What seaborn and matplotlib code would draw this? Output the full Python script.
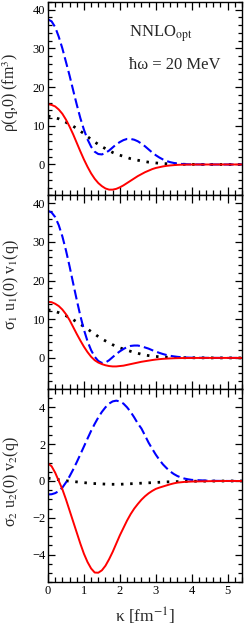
import numpy as np
import pandas as pd
import matplotlib
matplotlib.use("Agg")
import matplotlib.pyplot as plt
import seaborn as sns
from matplotlib.ticker import MultipleLocator

sns.set_theme(style="ticks")
plt.rcParams['font.family'] = ['Liberation Serif', 'DejaVu Serif']
plt.rcParams['mathtext.fontset'] = 'stix'

kappa = [0.0, 0.1, 0.2, 0.3, 0.4, 0.5, 0.6, 0.7, 0.8, 0.9,
         1.0, 1.1, 1.2, 1.3, 1.4, 1.5, 1.6, 1.7, 1.8, 1.9,
         2.0, 2.1, 2.2, 2.3, 2.4, 2.5, 2.6, 2.7, 2.8, 2.9,
         3.0, 3.1, 3.2, 3.3, 3.4, 3.5, 3.6, 3.7, 3.8, 3.9,
         4.0, 4.5, 5.0, 5.4]

# Panel 1: rho(q,0)
rho_red = [15.6, 15.4, 15.0, 14.2, 13.1, 11.6, 9.8, 7.8, 5.6, 3.4,
           1.3, -0.6, -2.3, -3.7, -4.8, -5.6, -6.2, -6.5, -6.5, -6.3,
           -5.9, -5.4, -4.8, -4.2, -3.6, -3.0, -2.5, -2.0, -1.6, -1.2,
           -0.9, -0.7, -0.5, -0.35, -0.25, -0.17, -0.1, -0.06, -0.04, -0.02,
           -0.01, 0.0, 0.0, 0.0]
rho_blue = [37.5, 37.0, 35.5, 33.0, 30.0, 26.5, 23.0, 19.2, 15.5, 12.0,
            9.0, 6.5, 4.6, 3.3, 2.7, 2.6, 3.0, 3.6, 4.4, 5.2,
            5.8, 6.3, 6.6, 6.6, 6.4, 6.0, 5.4, 4.7, 3.9, 3.1,
            2.4, 1.8, 1.3, 0.9, 0.6, 0.4, 0.25, 0.15, 0.09, 0.05,
            0.03, 0.0, 0.0, 0.0]
rho_black = [12.5, 12.3, 12.1, 11.8, 11.4, 10.9, 10.4, 9.9, 9.3, 8.6,
             8.0, 7.2, 6.5, 5.8, 5.2, 4.6, 4.1, 3.6, 3.1, 2.7,
             2.4, 2.1, 1.8, 1.5, 1.3, 1.1, 0.9, 0.75, 0.6, 0.5,
             0.4, 0.32, 0.25, 0.2, 0.15, 0.12, 0.09, 0.07, 0.05, 0.04,
             0.03, 0.01, 0.0, 0.0]

# Panel 2: sigma1 u1(0) v1(q)
v1_red = [14.5, 14.4, 14.0, 13.4, 12.5, 11.3, 9.8, 8.0, 6.2, 4.5,
          2.9, 1.5, 0.3, -0.6, -1.2, -1.6, -1.9, -2.1, -2.2, -2.2,
          -2.1, -2.0, -1.8, -1.6, -1.4, -1.2, -1.0, -0.85, -0.7, -0.55,
          -0.42, -0.32, -0.24, -0.18, -0.13, -0.09, -0.06, -0.04, -0.03, -0.02,
          -0.01, 0.0, 0.0, 0.0]
v1_blue = [38.0, 37.6, 36.4, 34.3, 31.4, 27.8, 23.7, 19.3, 15.0, 10.9,
           7.3, 4.3, 2.0, 0.3, -0.8, -1.3, -1.2, -0.6, 0.2, 1.0,
           1.7, 2.3, 2.8, 3.1, 3.2, 3.2, 3.0, 2.7, 2.4, 2.0,
           1.65, 1.3, 1.0, 0.75, 0.55, 0.4, 0.28, 0.19, 0.12, 0.08,
           0.05, 0.01, 0.0, 0.0]
v1_black = [12.4, 12.3, 12.0, 11.7, 11.3, 10.9, 10.4, 9.9, 9.3, 8.7,
            8.1, 7.5, 6.8, 6.2, 5.5, 4.9, 4.4, 3.9, 3.4, 3.0,
            2.6, 2.3, 2.0, 1.7, 1.4, 1.2, 0.95, 0.75, 0.6, 0.48,
            0.38, 0.3, 0.24, 0.19, 0.15, 0.12, 0.09, 0.07, 0.05, 0.04,
            0.03, 0.01, 0.0, 0.0]

# Panel 3: sigma2 u2(0) v2(q)
v2_red = [0.95, 0.8, 0.45, 0.0, -0.45, -1.0, -1.6, -2.2, -2.8, -3.4,
          -3.95, -4.4, -4.75, -4.97, -4.98, -4.85, -4.6, -4.25, -3.85, -3.4,
          -2.95, -2.55, -2.15, -1.8, -1.5, -1.25, -1.02, -0.83, -0.67, -0.54,
          -0.43, -0.36, -0.3, -0.24, -0.18, -0.13, -0.09, -0.07, -0.05, -0.04,
          -0.03, -0.01, 0.0, 0.0]
v2_blue = [-0.73, -0.72, -0.66, -0.55, -0.36, -0.08, 0.25, 0.62, 1.02, 1.44,
           1.87, 2.3, 2.72, 3.1, 3.45, 3.75, 4.0, 4.2, 4.32, 4.36,
           4.32, 4.2, 4.0, 3.75, 3.45, 3.12, 2.85, 2.47, 2.08, 1.75,
           1.43, 1.15, 0.9, 0.7, 0.52, 0.38, 0.27, 0.19, 0.13, 0.09,
           0.06, 0.01, 0.0, 0.0]
v2_black = [0.15, 0.13, 0.1, 0.07, 0.04, 0.01, -0.01, -0.03, -0.05, -0.07,
            -0.09, -0.11, -0.13, -0.14, -0.15, -0.16, -0.17, -0.18, -0.18, -0.18,
            -0.18, -0.17, -0.16, -0.15, -0.14, -0.13, -0.12, -0.11, -0.1, -0.09,
            -0.08, -0.07, -0.06, -0.05, -0.045, -0.04, -0.035, -0.03, -0.025, -0.02,
            -0.015, -0.005, 0.0, 0.0]

ylabels = ["ρ(q,0) (fm$^3$)", "σ$_1$ u$_1$(0) v$_1$(q)", "σ$_2$ u$_2$(0) v$_2$(q)"]
xlabel = "κ [fm$^{-1}$]"
panels = [(rho_red, rho_blue, rho_black), (v1_red, v1_blue, v1_black), (v2_red, v2_blue, v2_black)]
ylims = [(-8, 42), (-8, 42), (-5.5, 5)]
ymaj = [10, 10, 2]
ymin_ = [2, 2, 0.5]
label_y = [0.53, 0.54, 0.52]

W, H = 244, 627
fig = plt.figure(figsize=(W / 100, H / 100), dpi=100)
left, right = 48 / W, 242 / W
tops = [2, 195, 388.5]
bot = 582.3
ph = (bot - tops[0]) / 3
axes = []
for i in range(3):
    y0 = 1 - (tops[0] + ph * (i + 1)) / H
    ax = fig.add_axes([left, y0, right - left, ph / H])
    axes.append(ax)

for i, ax in enumerate(axes):
    red, blue, black = panels[i]
    df = pd.DataFrame({"k": kappa, "red": red, "blue": blue, "black": black})
    sns.lineplot(data=df, x="k", y="black", ax=ax, color="black", lw=2.0,
                 linestyle=(0, (0.9, 2.4)), estimator=None, sort=False)
    sns.lineplot(data=df, x="k", y="blue", ax=ax, color="#0000ff", lw=1.5,
                 linestyle=(0, (4.8, 2.0)), estimator=None, sort=False)
    sns.lineplot(data=df, x="k", y="red", ax=ax, color="#ff0000", lw=1.4,
                 estimator=None, sort=False)
    ax.set_xlim(0, 5.4)
    ax.set_ylim(*ylims[i])
    ax.xaxis.set_major_locator(MultipleLocator(1))
    ax.xaxis.set_minor_locator(MultipleLocator(0.2))
    ax.yaxis.set_major_locator(MultipleLocator(ymaj[i]))
    ax.yaxis.set_minor_locator(MultipleLocator(ymin_[i]))
    ax.tick_params(which="both", direction="in", top=True, right=True,
                   labelsize=9, width=0.9, colors="black", pad=2)
    ax.tick_params(axis="x", which="major", length=6)
    ax.tick_params(axis="x", which="minor", length=3.5)
    ax.tick_params(axis="y", which="major", length=5)
    ax.tick_params(axis="y", which="minor", length=3)
    for s in ax.spines.values():
        s.set_linewidth(1.0)
        s.set_color("black")
    ax.set_ylabel(ylabels[i], fontsize=11.5)
    ax.yaxis.set_label_coords(-0.139, label_y[i])
    if i < 2:
        ax.set_xlabel("")
        ax.tick_params(axis="x", labelbottom=False)
    else:
        ax.set_xlabel(xlabel, fontsize=12.5, labelpad=6)

axes[0].text(0.42, 0.82, "NNLO$_{\\rm opt}$", transform=axes[0].transAxes,
             fontsize=12, va="baseline", ha="left")
axes[0].text(0.42, 0.655, "ħω = 20 MeV", transform=axes[0].transAxes,
             fontsize=12, va="baseline", ha="left")

fig.savefig("out.png", dpi=100)
